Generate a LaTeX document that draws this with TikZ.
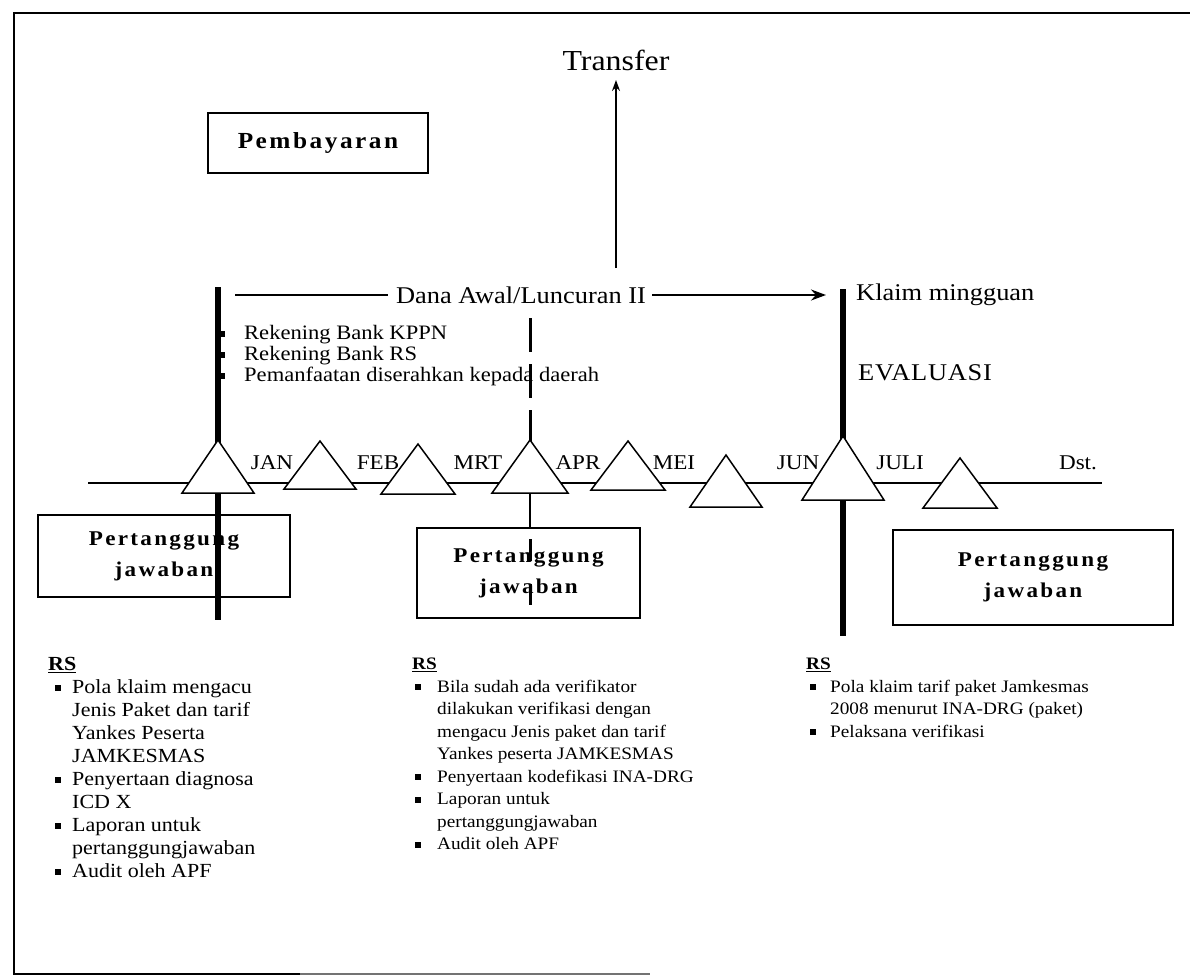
\documentclass[tikz,border=0pt]{standalone}
\usepackage{fontspec}
\setmainfont{Liberation Serif}[FakeStretch=1.1]
\newfontfamily\boxfont{Liberation Serif}[FakeStretch=1.1, LetterSpace=11]
\usetikzlibrary{arrows.meta}

% list bullets: small black squares with a hanging indent
\newcommand\sqbul[2]{\hspace*{#1}\rule[0.12em]{6pt}{6pt}\hspace*{#2}}
\newcommand\hang[1]{\hspace*{#1}}

\begin{document}
\begin{tikzpicture}[x=1pt,y=-1pt,
  frameline/.style={line width=2.4pt},
  axisline/.style={line width=1.3pt},
  tri/.style={draw, fill=white, line width=1.5pt, line join=miter},
  bar/.style={line width=6.5pt},
  dashbar/.style={line width=3pt, dash pattern=on 34pt off 12pt},
  thinbar/.style={line width=1.8pt},
  boxnode/.style={draw, line width=1.6pt, fill=white, inner sep=0pt,
    align=center, font=\boxfont\bfseries\fontsize{21}{31}\selectfont},
  label/.style={inner sep=0pt, font=\fontsize{24}{28}\selectfont},
  month/.style={inner sep=0pt, anchor=base, font=\fontsize{21}{24}\selectfont},
  listnode/.style={inner sep=0pt, anchor=north west, align=left},
  arrowline/.style={line width=1.6pt, -{Stealth[length=15pt, width=11pt]}},
]
\useasboundingbox (0,0) rectangle (1190,977);

% frame
\draw[frameline] (1190,13) -- (14,13) -- (14,974) -- (300,974);
\draw[line width=1.2pt, black!55] (300,974) -- (650,974);

% time axis
\coordinate (axL) at (88,483);
\coordinate (axR) at (1102,483);
\draw[axisline] (axL) -- (axR);

% transfer
\node[inner sep=0pt, font=\fontsize{29}{32}\selectfont] (transfer) at (616,60) {Transfer};
\coordinate (trfoot) at (616,268);
\coordinate (trtip) at (616,80);
\draw[line width=1.6pt, -{Stealth[length=11pt, width=8pt]}] (trfoot) -- (trtip);

% payment box
\node[boxnode, minimum width=220pt, minimum height=60pt,
  font=\boxfont\bfseries\fontsize{23}{28}\selectfont] (bayar) at (318,143) {Pembayaran};

% reporting boxes
\node[boxnode, minimum width=252pt, minimum height=82pt] (ptjA) at (164,556) {Pertanggung\\jawaban};
\node[boxnode, minimum width=223pt, minimum height=90pt] (ptjB) at (528.5,573) {Pertanggung\\jawaban};
\node[boxnode, minimum width=280pt, minimum height=95pt] (ptjC) at (1033,577.5) {Pertanggung\\jawaban};

% vertical markers
\coordinate (barAtop) at (218,287);
\coordinate (barAbot) at (218,620);
\draw[bar] (barAtop) -- (barAbot);
\coordinate (barCtop) at (843,289);
\coordinate (barCbot) at (843,636);
\draw[bar] (barCtop) -- (barCbot);
\coordinate (barBtop) at (530,318);
\coordinate (barBmid) at (530,446);
\draw[dashbar] (barBtop) -- (barBmid);
\coordinate (triBbase) at (530,493);
\draw[thinbar] (triBbase) -- (triBbase |- ptjB.north);
\draw[line width=3pt, dash pattern=on 22pt off 23pt] ([yshift=-12pt]ptjB.north -| triBbase) -- ([yshift=-78pt]ptjB.north -| triBbase);

% funds line
\node[label] (dana) at (521,295) {Dana Awal/Luncuran II};
\coordinate (danaL) at (235,295);
\coordinate (danaR) at (826,295);
\draw[line width=1.4pt] (danaL) -- ([xshift=-8pt]dana.west);
\draw[arrowline] ([xshift=6pt]dana.east) -- (danaR);
\node[label, anchor=west] (klaim) at (856,295) {Klaim mingguan};
\node[label, anchor=west, font=\fontsize{24}{28}\selectfont\addfontfeature{LetterSpace=3}] (eval) at (858,373) {EVALUASI};

% account list beside the first marker
\node[listnode, font=\fontsize{20.5}{21}\selectfont] (rek) at (219,325)
  {\sqbul{0pt}{19pt}Rekening Bank KPPN\\
   \sqbul{0pt}{19pt}Rekening Bank RS\\
   \sqbul{0pt}{19pt}Pemanfaatan diserahkan kepada daerah};

% months: triangles on the axis
\filldraw[tri] (218,440) -- (254,493) -- (182,493) -- cycle;
\filldraw[tri] (320,441) -- (356,489) -- (284,489) -- cycle;
\filldraw[tri] (418,444) -- (455,494) -- (381,494) -- cycle;
\filldraw[tri] (530,440) -- (568,493) -- (492,493) -- cycle;
\filldraw[tri] (628,441) -- (665,490) -- (591,490) -- cycle;
\filldraw[tri] (726,455) -- (762,507) -- (690,507) -- cycle;
\filldraw[tri] (843,436) -- (884,500) -- (802,500) -- cycle;
\filldraw[tri] (960,458) -- (997,508) -- (923,508) -- cycle;

\node[month] (jan) at (272,469) {JAN};
\node[month] (feb) at (378,469) {FEB};
\node[month] (mrt) at (478,469) {MRT};
\node[month] (apr) at (578,469) {APR};
\node[month] (mei) at (674,469) {MEI};
\node[month] (jun) at (798,469) {JUN};
\node[month] (juli) at (900,469) {JULI};
\node[month] (dst) at (1078,469) {Dst.};

% hospital notes
\node[listnode, font=\fontsize{20}{23}\selectfont] (rsA) at (48,657)
  {\underline{\textbf{RS}}\\
   \sqbul{7pt}{11pt}Pola klaim mengacu\\
   \hang{24pt}Jenis Paket dan tarif\\
   \hang{24pt}Yankes Peserta\\
   \hang{24pt}JAMKESMAS\\
   \sqbul{7pt}{11pt}Penyertaan diagnosa\\
   \hang{24pt}ICD X\\
   \sqbul{7pt}{11pt}Laporan untuk\\
   \hang{24pt}pertanggungjawaban\\
   \sqbul{7pt}{11pt}Audit oleh APF};

\node[listnode, font=\fontsize{17.5}{22.5}\selectfont] (rsB) at (412,658)
  {\underline{\textbf{RS}}\\
   \sqbul{3pt}{16pt}Bila sudah ada verifikator\\
   \hang{25pt}dilakukan verifikasi dengan\\
   \hang{25pt}mengacu Jenis paket dan tarif\\
   \hang{25pt}Yankes peserta JAMKESMAS\\
   \sqbul{3pt}{16pt}Penyertaan kodefikasi INA-DRG\\
   \sqbul{3pt}{16pt}Laporan untuk\\
   \hang{25pt}pertanggungjawaban\\
   \sqbul{3pt}{16pt}Audit oleh APF};

\node[listnode, font=\fontsize{17.5}{22.5}\selectfont] (rsC) at (806,658)
  {\underline{\textbf{RS}}\\
   \sqbul{4pt}{14pt}Pola klaim tarif paket Jamkesmas\\
   \hang{24pt}2008 menurut INA-DRG (paket)\\
   \sqbul{4pt}{14pt}Pelaksana verifikasi};
\end{tikzpicture}
\end{document}
